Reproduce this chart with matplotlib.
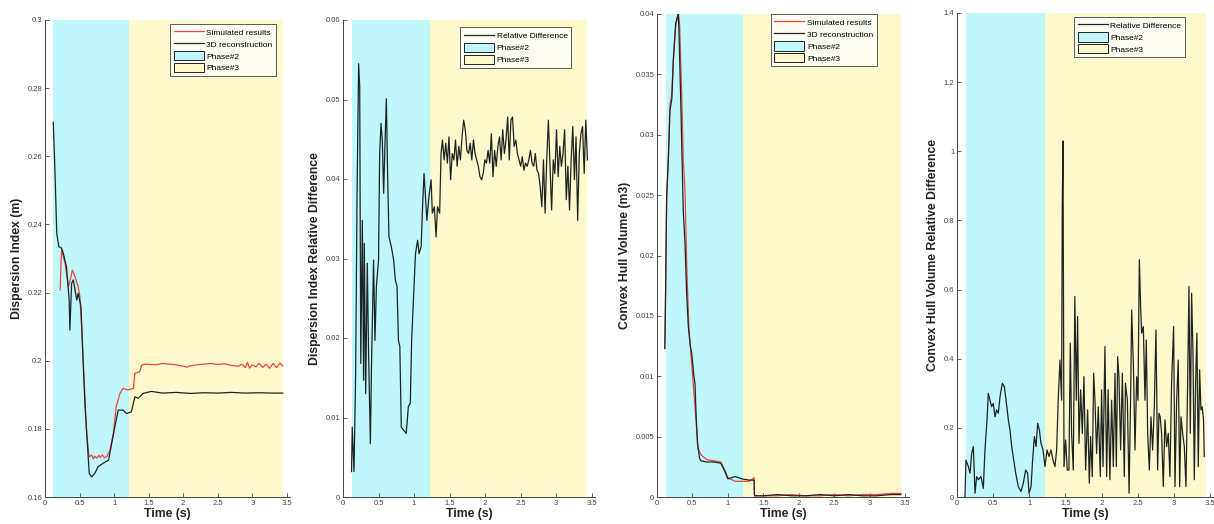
import numpy as np
import matplotlib
matplotlib.use('Agg')
from matplotlib import pyplot as plt
from matplotlib.patches import Patch
from matplotlib.lines import Line2D
from matplotlib.ticker import FormatStrFormatter, MultipleLocator

plt.rcParams['font.family'] = ['Liberation Sans', 'DejaVu Sans']

# phase boundaries (s)
phase2_start = 0.12
phase3_start = 1.22
phase3_end = 3.44

# ---- panel 1: dispersion index (m)
di_sim_t = [0.22, 0.23, 0.24, 0.29, 0.34, 0.376, 0.395, 0.434, 0.48, 0.505, 0.53, 0.57, 0.603,
            0.637, 0.675, 0.70, 0.72, 0.75, 0.78, 0.80, 0.83, 0.86, 0.90, 0.94, 0.99, 1.03,
            1.085, 1.13, 1.20, 1.28, 1.30, 1.37, 1.40, 1.45, 1.6, 1.7, 1.8, 1.9, 2.0, 2.05,
            2.1, 2.2, 2.3, 2.4, 2.5, 2.6, 2.7, 2.8, 2.85, 2.9, 2.93, 2.96, 3.0, 3.05, 3.1,
            3.15, 3.2, 3.25, 3.3, 3.35, 3.4, 3.44]
di_sim = [0.2208, 0.2276, 0.2325, 0.2286, 0.2217, 0.2247, 0.2266, 0.2247, 0.2217, 0.2188,
          0.2100, 0.1924, 0.1787, 0.1718, 0.1723, 0.1712, 0.1720, 0.1714, 0.1722, 0.1716,
          0.1724, 0.1715, 0.1720, 0.1738, 0.1787, 0.1865, 0.1904, 0.1919, 0.1914, 0.1919,
          0.1963, 0.1968, 0.1987, 0.1990, 0.1988, 0.1992, 0.1990, 0.1988, 0.1984, 0.1981,
          0.1985, 0.1988, 0.1990, 0.1992, 0.1989, 0.1991, 0.1986, 0.1984, 0.1990, 0.1980,
          0.1995, 0.1978, 0.1988, 0.1982, 0.1992, 0.1980, 0.1990, 0.1978, 0.1992, 0.1980,
          0.1993, 0.1985]
di_rec_t = [0.12, 0.145, 0.17, 0.20, 0.24, 0.265, 0.31, 0.35, 0.36, 0.385, 0.41, 0.46, 0.48,
            0.52, 0.555, 0.58, 0.61, 0.64, 0.675, 0.72, 0.77, 0.84, 0.92, 0.965, 1.01, 1.06,
            1.13, 1.18, 1.25, 1.30, 1.35, 1.42, 1.54, 1.7, 1.9, 2.1, 2.3, 2.5, 2.7, 2.9, 3.1,
            3.3, 3.44]
di_rec = [0.2700, 0.2550, 0.2374, 0.2335, 0.2330, 0.2315, 0.2276, 0.2178, 0.2090, 0.2227,
          0.2237, 0.2178, 0.2198, 0.2160, 0.1983, 0.1865, 0.1767, 0.1669, 0.1659, 0.1669,
          0.1689, 0.1699, 0.1708, 0.1757, 0.1806, 0.1855, 0.1855, 0.1845, 0.1850, 0.1894,
          0.1890, 0.1904, 0.1910, 0.1905, 0.1907, 0.1904, 0.1906, 0.1905, 0.1907, 0.1905,
          0.1906, 0.1905, 0.1905]

# ---- panel 2: dispersion index relative difference
di_rel_t_p2 = [0.12, 0.13, 0.155, 0.178, 0.188, 0.197, 0.22, 0.235, 0.25, 0.272, 0.29, 0.30,
               0.319, 0.342, 0.36, 0.385, 0.40, 0.43, 0.45, 0.47, 0.50, 0.516, 0.535, 0.553,
               0.572, 0.59, 0.61, 0.628, 0.647, 0.68, 0.713, 0.736, 0.76, 0.78, 0.80, 0.82,
               0.854, 0.89, 0.92, 0.947, 0.966, 0.994, 1.02, 1.05, 1.07, 1.10, 1.116, 1.14,
               1.158, 1.18, 1.21, 1.24, 1.257, 1.285, 1.31, 1.33, 1.36, 1.38]
di_rel_p2 = [0.0032, 0.0088, 0.0032, 0.0156, 0.0265, 0.0374, 0.0545, 0.0516, 0.0168, 0.0348,
             0.0147, 0.0319, 0.0130, 0.0294, 0.0181, 0.0067, 0.0160, 0.0298, 0.0197, 0.0265,
             0.0298, 0.0432, 0.0470, 0.0449, 0.0382, 0.0441, 0.0501, 0.0403, 0.0327, 0.0315,
             0.0298, 0.0273, 0.0265, 0.0197, 0.0189, 0.0088, 0.0084, 0.0080, 0.0114, 0.0118,
             0.0197, 0.0252, 0.0306, 0.0323, 0.0306, 0.0315, 0.0357, 0.0407, 0.0382, 0.0348,
             0.0378, 0.0399, 0.0357, 0.0365, 0.0327, 0.0365, 0.0357, 0.0432]
di_rel_p3 = [0.0449, 0.0424, 0.0445, 0.0420, 0.0453, 0.0399, 0.0432, 0.0424, 0.0449, 0.0416,
             0.0441, 0.0424, 0.0453, 0.0474, 0.0462, 0.0436, 0.0432, 0.0445, 0.0424, 0.0449,
             0.0432, 0.0424, 0.0416, 0.0403, 0.0399, 0.0407, 0.0424, 0.0420, 0.0436, 0.0420,
             0.0457, 0.0403, 0.0436, 0.0416, 0.0441, 0.0453, 0.0424, 0.0462, 0.0432, 0.0449,
             0.0478, 0.0424, 0.0474, 0.0478, 0.0441, 0.0449, 0.0432, 0.0424, 0.0416, 0.0428,
             0.0411, 0.0420, 0.0416, 0.0424, 0.0436, 0.0420, 0.0416, 0.0432, 0.0411, 0.0407,
             0.0390, 0.0365, 0.0424, 0.0357, 0.0424, 0.0474, 0.0416, 0.0361, 0.0424, 0.0407,
             0.0462, 0.0403, 0.0441, 0.0416, 0.0432, 0.0462, 0.0374, 0.0416, 0.0361, 0.0424,
             0.0466, 0.0399, 0.0453, 0.0348, 0.0432, 0.0457, 0.0466, 0.0407, 0.0474, 0.0424]

# ---- panel 3: convex hull volume (m3)
chv_rec_t = [0.11, 0.12, 0.136, 0.16, 0.183, 0.21, 0.23, 0.263, 0.30, 0.31, 0.338, 0.37, 0.395,
             0.418, 0.442, 0.47, 0.49, 0.52, 0.536, 0.55, 0.57, 0.60, 0.62, 0.70, 0.80, 0.90,
             0.95, 1.00, 1.10, 1.20, 1.30, 1.37, 1.375, 1.5, 1.7, 1.9, 2.1, 2.3, 2.5, 2.7,
             2.9, 3.1, 3.3, 3.44]
chv_rec = [0.0123, 0.0163, 0.0249, 0.0279, 0.0320, 0.0330, 0.0362, 0.0392, 0.0400, 0.0386,
           0.0320, 0.0238, 0.0210, 0.0169, 0.0141, 0.0125, 0.0119, 0.0100, 0.0094, 0.0070,
           0.0045, 0.0032, 0.0030, 0.0029, 0.0029, 0.0028, 0.0022, 0.0015, 0.0017, 0.0015,
           0.0014, 0.0014, 0.0001, 0.0001, 0.0002, 0.0001, 0.0001, 0.0002, 0.0001, 0.0002,
           0.0001, 0.0001, 0.0002, 0.0002]
chv_sim_t = [0.11, 0.12, 0.136, 0.16, 0.183, 0.207, 0.23, 0.263, 0.29, 0.30, 0.32, 0.35, 0.37,
             0.395, 0.42, 0.45, 0.50, 0.55, 0.58, 0.62, 0.70, 0.80, 0.90, 0.95, 1.00, 1.10,
             1.20, 1.30, 1.37, 1.375, 1.5, 1.7, 1.9, 2.1, 2.3, 2.5, 2.7, 2.9, 3.1, 3.3, 3.44]
chv_sim = [0.0123, 0.0165, 0.0245, 0.0282, 0.0325, 0.0333, 0.0360, 0.0390, 0.0398, 0.0402,
           0.0390, 0.0330, 0.0280, 0.0254, 0.0190, 0.0140, 0.0102, 0.0064, 0.0040, 0.0035,
           0.0031, 0.0030, 0.0029, 0.0023, 0.0016, 0.0013, 0.0013, 0.0013, 0.0016, 0.0001,
           0.0001, 0.0001, 0.0002, 0.0001, 0.0001, 0.0002, 0.0001, 0.0002, 0.0002, 0.0003,
           0.0003]

# ---- panel 4: convex hull volume relative difference
chv_rel_t = [0.11, 0.124, 0.157, 0.18, 0.203, 0.226, 0.249, 0.272, 0.295, 0.332, 0.364, 0.387,
             0.415, 0.433, 0.456, 0.479, 0.502, 0.525, 0.548, 0.571, 0.595, 0.627, 0.655,
             0.678, 0.71, 0.733, 0.756, 0.784, 0.812, 0.848, 0.885, 0.917, 0.95, 0.977, 0.996,
             1.024, 1.046, 1.07, 1.093, 1.116, 1.139, 1.162, 1.19, 1.217, 1.245, 1.272, 1.30,
             1.327, 1.355, 1.378, 1.40, 1.424, 1.447, 1.456, 1.466, 1.48, 1.502, 1.525, 1.548,
             1.567, 1.585, 1.608, 1.63, 1.65, 1.668, 1.687, 1.71, 1.733, 1.756, 1.779, 1.807,
             1.83, 1.848, 1.871, 1.89, 1.908, 1.931, 1.954, 1.982, 2.0, 2.02, 2.046, 2.07,
             2.09, 2.115, 2.139, 2.162, 2.185, 2.204, 2.222, 2.24, 2.263, 2.287, 2.314, 2.33,
             2.356, 2.38, 2.402, 2.416, 2.44, 2.462, 2.485, 2.503, 2.522, 2.54, 2.554, 2.577,
             2.60, 2.618, 2.637, 2.66, 2.683, 2.706, 2.729, 2.752, 2.775, 2.793, 2.81, 2.83,
             2.853, 2.876, 2.899, 2.922, 2.945, 2.968, 2.996, 3.015, 3.038, 3.06, 3.08, 3.098,
             3.121, 3.144, 3.167, 3.19, 3.208, 3.227, 3.245, 3.264, 3.282, 3.30, 3.318, 3.337,
             3.356, 3.374, 3.392, 3.41, 3.42]
chv_rel = [0.0, 0.107, 0.088, 0.069, 0.126, 0.146, 0.011, 0.059, 0.050, 0.059, 0.025, 0.136,
           0.223, 0.300, 0.280, 0.261, 0.271, 0.232, 0.252, 0.242, 0.290, 0.329, 0.319, 0.281,
           0.223, 0.194, 0.146, 0.107, 0.069, 0.030, 0.016, 0.040, 0.078, 0.069, 0.011, 0.030,
           0.107, 0.175, 0.146, 0.213, 0.194, 0.155, 0.136, 0.088, 0.136, 0.117, 0.136, 0.107,
           0.088, 0.136, 0.280, 0.396, 0.280, 0.840, 1.030, 0.088, 0.165, 0.078, 0.078, 0.445,
           0.184, 0.078, 0.580, 0.280, 0.522, 0.155, 0.310, 0.184, 0.348, 0.078, 0.252, 0.040,
           0.175, 0.059, 0.358, 0.280, 0.126, 0.261, 0.059, 0.310, 0.088, 0.435, 0.059, 0.310,
           0.050, 0.280, 0.088, 0.358, 0.088, 0.406, 0.348, 0.136, 0.358, 0.059, 0.329, 0.280,
           0.011, 0.300, 0.541, 0.377, 0.136, 0.348, 0.280, 0.686, 0.551, 0.474, 0.493, 0.280,
           0.454, 0.184, 0.078, 0.232, 0.136, 0.261, 0.483, 0.078, 0.242, 0.232, 0.184, 0.030,
           0.223, 0.146, 0.184, 0.059, 0.329, 0.493, 0.030, 0.280, 0.396, 0.030, 0.232, 0.184,
           0.146, 0.030, 0.329, 0.609, 0.184, 0.589, 0.416, 0.050, 0.329, 0.474, 0.088, 0.368,
           0.252, 0.261, 0.223, 0.117]

cyan = '#c0f7fa'
yellow = '#fdf9cd'
red = '#e8453c'
dark = '#1e2424'

fig = plt.figure(figsize=(12.14, 5.24), dpi=100)
W, H = 1214.0, 524.0

def make_axes(left, top, bottom, per_unit):
    width = 3.55 * per_unit
    return fig.add_axes([left / W, (H - bottom) / H, width / W, (bottom - top) / H])

def style(ax, ylim, ystep, ylabel, fmt='%g'):
    ax.axvspan(phase2_start, phase3_start, color=cyan, lw=0, zorder=0)
    ax.axvspan(phase3_start, phase3_end, color=yellow, lw=0, zorder=0)
    ax.set_xlim(0, 3.55)
    ax.set_ylim(*ylim)
    ax.xaxis.set_major_locator(MultipleLocator(0.5))
    ax.yaxis.set_major_locator(MultipleLocator(ystep))
    ax.xaxis.set_major_formatter(FormatStrFormatter('%g'))
    ax.yaxis.set_major_formatter(FormatStrFormatter(fmt))
    for s in ['top', 'right']:
        ax.spines[s].set_visible(False)
    for s in ['left', 'bottom']:
        ax.spines[s].set_color('#444444')
        ax.spines[s].set_linewidth(0.7)
    ax.tick_params(direction='in', length=3, width=0.6, labelsize=5.5,
                   colors='#444444', pad=2)
    ax.set_xlabel('Time (s)', fontsize=8.8, fontweight='bold', color='#222222', labelpad=1)
    ax.set_ylabel(ylabel, fontsize=8.8, fontweight='bold', color='#222222', labelpad=3)

def add_legend(ax, labels, colors, anchor):
    handles = []
    for lab, c in zip(labels, colors):
        handles.append(Line2D([], [], color=c, lw=0.9))
    handles.append(Patch(facecolor=cyan, edgecolor='k', lw=0.6))
    handles.append(Patch(facecolor=yellow, edgecolor='k', lw=0.6))
    leg = ax.legend(handles, labels + ['Phase#2', 'Phase#3'], loc='upper right',
                    bbox_to_anchor=anchor, fontsize=6, frameon=True, fancybox=False,
                    handlelength=3.6, handleheight=1.3, borderpad=0.45, labelspacing=0.3,
                    handletextpad=0.3, borderaxespad=0)
    leg.get_frame().set_edgecolor('#333333')
    leg.get_frame().set_linewidth(0.7)

# panel 1
ax1 = make_axes(45, 20, 497, 69.1)
style(ax1, (0.16, 0.3), 0.02, 'Dispersion Index (m)')
ax1.plot(di_sim_t, di_sim, color=red, lw=0.9)
ax1.plot(di_rec_t, di_rec, color=dark, lw=0.9)
add_legend(ax1, ['Simulated results', '3D reconstruction'], [red, dark], (0.943, 0.992))

# panel 2
ax2 = make_axes(343, 20, 497, 71.06)
style(ax2, (0, 0.06), 0.01, 'Dispersion Index Relative Difference')
t_p3 = np.linspace(1.40, phase3_end, len(di_rel_p3))
ax2.plot(list(di_rel_t_p2) + list(t_p3), di_rel_p2 + di_rel_p3, color=dark, lw=0.9)
add_legend(ax2, ['Relative Difference'], [dark], (0.905, 0.985))

# panel 3
ax3 = make_axes(657, 14, 497, 70.9)
style(ax3, (0, 0.04), 0.005, 'Convex Hull Volume (m3)')
ax3.plot(chv_sim_t, chv_sim, color=red, lw=0.9)
ax3.plot(chv_rec_t, chv_rec, color=dark, lw=0.9)
add_legend(ax3, ['Simulated results', '3D reconstruction'], [red, dark], (0.874, 1.0))

# panel 4
ax4 = make_axes(957, 13, 497, 72.3)
style(ax4, (0, 1.4), 0.2, 'Convex Hull Volume Relative Difference')
ax4.plot(chv_rel_t, chv_rel, color=dark, lw=0.9)
add_legend(ax4, ['Relative Difference'], [dark], (0.888, 0.992))

fig.savefig('out.png', dpi=100)
